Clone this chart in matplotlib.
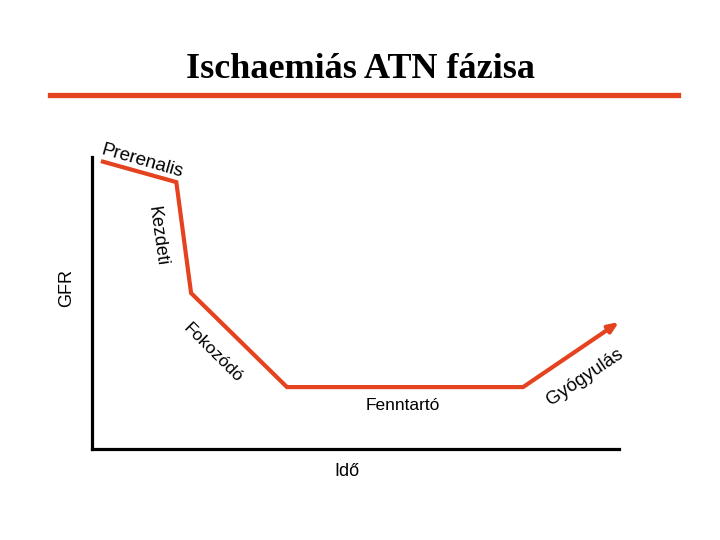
import matplotlib
matplotlib.use('Agg')
import matplotlib.pyplot as plt
from matplotlib.lines import Line2D

# phase curve (time in arbitrary units, GFR in % of normal)
ido = [0.17, 1.6, 1.88, 3.7, 8.18, 10.0]
gfr = [98.6, 91.4, 53.4, 21.2, 21.2, 43.5]

fazis_nevek = ['Prerenalis', 'Kezdeti', 'Fokozódó', 'Fenntartó', 'Gyógyulás']
# label anchor (data coords) and rotation
fazis_x = [0.95, 1.24, 2.3, 5.9, 9.36]
fazis_y = [98.5, 73.0, 33.0, 15.0, 24.5]
fazis_rot = [-16, -82, -45, 0, 34]
fazis_meret = [13.5, 13, 12.5, 12.5, 13.5]

piros = '#E5431F'

fig = plt.figure(figsize=(7.2, 5.4), dpi=100)
W, H = 720, 540

# title and red rule
fig.text(360 / W, 1 - 70 / H, 'Ischaemiás ATN fázisa', ha='center', va='center',
         family='Liberation Serif', weight='bold', fontsize=26)
fig.add_artist(Line2D([50 / W, 678 / W], [1 - 94.5 / H, 1 - 94.5 / H], color=piros, lw=3.8,
                      transform=fig.transFigure))

ax = fig.add_axes([92 / W, 1 - 449 / H, (619 - 92) / W, (449 - 157) / H])
ax.set_xlim(0, 10)
ax.set_ylim(0, 100)
for s in ['top', 'right']:
    ax.spines[s].set_visible(False)
for s in ['left', 'bottom']:
    ax.spines[s].set_linewidth(2.3)
    ax.spines[s].set_color('black')
ax.set_xticks([])
ax.set_yticks([])

ax.plot(ido[:-1], gfr[:-1], color=piros, lw=3, solid_joinstyle='miter', solid_capstyle='butt')
ax.annotate('', xy=(ido[-1], gfr[-1]), xytext=(ido[-2], gfr[-2]),
            arrowprops=dict(arrowstyle='-|>,head_length=0.6,head_width=0.25', color=piros, lw=3,
                            shrinkA=0, shrinkB=0))

for nev, x, y, r, m in zip(fazis_nevek, fazis_x, fazis_y, fazis_rot, fazis_meret):
    ax.text(x, y, nev, rotation=r, rotation_mode='anchor', ha='center', va='center',
            family='Liberation Sans', fontsize=m, clip_on=False)

fig.text(67 / W, 1 - 288 / H, 'GFR', rotation=90, ha='center', va='center',
         family='Liberation Sans', fontsize=13)
fig.text(347 / W, 1 - 472 / H, 'Idő', ha='center', va='center',
         family='Liberation Sans', fontsize=13)

fig.savefig('out.png', dpi=100)
